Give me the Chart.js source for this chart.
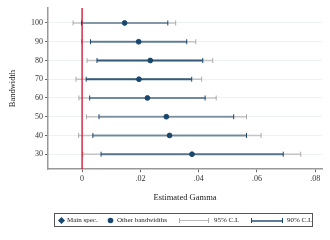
<!DOCTYPE html>
<html>
<head>
<meta charset="utf-8">
<script src="https://cdn.jsdelivr.net/npm/chart.js@4/dist/chart.umd.min.js"></script>
<style>
  html, body { margin: 0; padding: 0; background: #fff; }
  #wrap { position: relative; width: 330px; height: 240px; }
  #legend {
    position: absolute; left: 54px; top: 213px; width: 259px; height: 14px;
    border: 1px solid #555; box-sizing: border-box;
    font: 7px "Liberation Serif", serif; color: #222;
  }
  #legend span { position: absolute; top: 2px; white-space: nowrap; }
  .ln { position: absolute; top: 6px; height: 1px; }
  .cap { position: absolute; top: 4px; width: 1px; height: 5px; }
</style>
</head>
<body>
<div id="wrap">
  <canvas id="gammaChart" width="330" height="240"></canvas>
  <div id="legend">
    <svg style="position:absolute;left:3px;top:3px" width="7" height="7"><polygon points="3.5,0 7,3.5 3.5,7 0,3.5" fill="#1a476f"/></svg>
    <span style="left:12px">Main spec.</span>
    <svg style="position:absolute;left:52px;top:3px" width="7" height="7"><circle cx="3.5" cy="3.5" r="2.8" fill="#1a476f"/></svg>
    <span style="left:62px">Other bandwidths</span>
    <div class="ln" style="left:124px;width:30px;background:#bbb"></div>
    <div class="cap" style="left:124px;background:#aaa"></div>
    <div class="cap" style="left:153px;background:#aaa"></div>
    <span style="left:159px">95% C.I.</span>
    <div class="ln" style="left:196px;width:32px;background:#5c7c9c;height:1.5px"></div>
    <div class="cap" style="left:196px;background:#1a476f"></div>
    <div class="cap" style="left:227px;background:#1a476f"></div>
    <span style="left:232px">90% C.I.</span>
  </div>
</div>
<script>
const bandwidths = [100, 90, 80, 70, 60, 50, 40, 30];
const estimates = [0.0146, 0.0194, 0.0234, 0.0195, 0.0224, 0.0289, 0.0300, 0.0377];
const ci95Low = [-0.0031, -0.0002, 0.0017, -0.0021, -0.0011, 0.0015, -0.0012, 0.0003];
const ci95High = [0.0321, 0.0390, 0.0448, 0.0410, 0.0460, 0.0564, 0.0614, 0.0750];
const ci90Low = [-0.0002, 0.0029, 0.0051, 0.0014, 0.0026, 0.0058, 0.0037, 0.0065];
const ci90High = [0.0294, 0.0359, 0.0414, 0.0376, 0.0422, 0.0520, 0.0564, 0.0690];
const yTicks = [30, 40, 50, 60, 70, 80, 90, 100];
const xTicks = [0, 0.02, 0.04, 0.06, 0.08];

// shade of each 90% bar (the original varies it row by row)
const barAlpha = [0.42, 0.58, 0.85, 0.85, 0.52, 0.42, 0.48, 0.65];

const serif = "'Liberation Serif', 'DejaVu Serif', serif";

const datasets = [];

// points
datasets.push({
  type: "scatter",
  data: bandwidths.map((b, i) => ({ x: estimates[i], y: b })),
  backgroundColor: "#1a476f",
  borderColor: "#1a476f",
  pointRadius: 2.4,
  order: 0,
});

// 90% caps
datasets.push({
  type: "scatter",
  data: bandwidths.flatMap((b, i) => [{ x: ci90Low[i], y: b }, { x: ci90High[i], y: b }]),
  pointStyle: "line",
  rotation: 90,
  pointRadius: 2.5,
  borderWidth: 1,
  borderColor: "#1a476f",
  order: 1,
});

// 90% bars, one per row
bandwidths.forEach((b, i) => {
  datasets.push({
    type: "line",
    data: [{ x: ci90Low[i], y: b }, { x: ci90High[i], y: b }],
    borderColor: `rgba(26, 71, 111, ${barAlpha[i]})`,
    borderWidth: 2,
    pointRadius: 0,
    order: 2,
  });
});

// zero line
datasets.push({
  type: "line",
  data: [{ x: 0, y: 22 }, { x: 0, y: 108 }],
  borderColor: "#c8102e",
  borderWidth: 1.3,
  pointRadius: 0,
  order: 3,
});

// 95% caps
datasets.push({
  type: "scatter",
  data: bandwidths.flatMap((b, i) => [{ x: ci95Low[i], y: b }, { x: ci95High[i], y: b }]),
  pointStyle: "line",
  rotation: 90,
  pointRadius: 2.5,
  borderWidth: 1,
  borderColor: "#aaaaaa",
  order: 4,
});

// 95% bars
bandwidths.forEach((b, i) => {
  datasets.push({
    type: "line",
    data: [{ x: ci95Low[i], y: b }, { x: ci95High[i], y: b }],
    borderColor: "#c4c4c4",
    borderWidth: 1.5,
    pointRadius: 0,
    order: 5,
  });
});

new Chart(document.getElementById("gammaChart").getContext("2d"), {
  type: "scatter",
  data: { datasets: datasets },
  options: {
    responsive: false,
    animation: false,
    layout: { padding: { left: 8, right: 8, top: 8, bottom: 37 } },
    plugins: { legend: { display: false }, tooltip: { enabled: false } },
    scales: {
      x: {
        type: "linear",
        min: -0.0117,
        max: 0.0823,
        afterBuildTicks: (axis) => { axis.ticks = xTicks.map((v) => ({ value: v })); },
        ticks: {
          color: "#333",
          padding: 2,
          maxRotation: 0,
          font: { family: serif, size: 8 },
          callback: (v) => (v === 0 ? "0" : String(+v.toFixed(2)).replace(/^0/, "")),
        },
        grid: { drawOnChartArea: false, tickColor: "#666", tickLength: 3 },
        border: { color: "#999", width: 1.5 },
        title: {
          display: true,
          text: "Estimated Gamma",
          color: "#222",
          font: { family: serif, size: 8.5 },
          padding: { top: 7, bottom: 0 },
        },
      },
      y: {
        type: "linear",
        min: 22,
        max: 108,
        afterBuildTicks: (axis) => { axis.ticks = yTicks.map((v) => ({ value: v })); },
        afterFit: (axis) => { axis.width = 40; },
        ticks: {
          color: "#333",
          padding: 2,
          font: { family: serif, size: 8 },
        },
        grid: { color: "#edf2f4", tickColor: "#666", tickLength: 3 },
        border: { color: "#999", width: 1.5 },
        title: {
          display: true,
          text: "Bandwidth",
          color: "#222",
          font: { family: serif, size: 8.5 },
          padding: { top: 0, bottom: 8 },
        },
      },
    },
  },
});
</script>
</body>
</html>
